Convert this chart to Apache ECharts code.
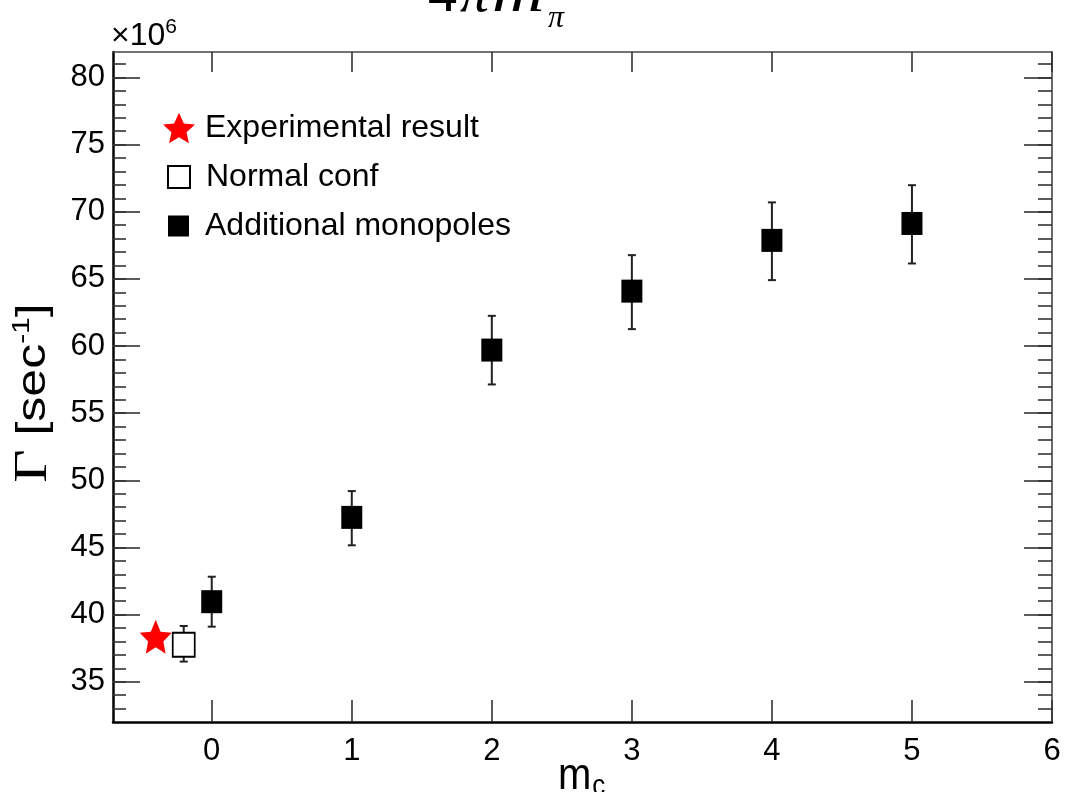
<!DOCTYPE html>
<html><head><meta charset="utf-8">
<script src="https://cdn.jsdelivr.net/npm/echarts@6/dist/echarts.min.js"></script>
<style>html,body{margin:0;padding:0;background:#fff}#c{width:1069px;height:792px}</style>
</head><body><div id="c"></div>
<script>
const experimentalX = [-0.4];
const experimentalY = [38.35];
const normalX = [-0.2];
const normalY = [37.75];
const normalLow = [36.5];
const normalHigh = [39.15];
const monopoleX = [0, 1, 2, 3, 4, 5];
const monopoleY = [40.96, 47.24, 59.70, 64.09, 67.87, 69.13];
const monopoleLow = [39.10, 45.16, 57.14, 61.26, 64.91, 66.15];
const monopoleHigh = [42.82, 49.20, 62.25, 66.77, 70.70, 71.98];
const xTicks = [0, 1, 2, 3, 4, 5, 6];
const yTicks = [35, 40, 45, 50, 55, 60, 65, 70, 75, 80];
const yMinorTicks = [33, 34, 35, 36, 37, 38, 39, 40, 41, 42, 43, 44, 45, 46, 47, 48, 49, 50, 51, 52, 53, 54, 55, 56, 57, 58, 59, 60, 61, 62, 63, 64, 65, 66, 67, 68, 69, 70, 71, 72, 73, 74, 75, 76, 77, 78, 79, 80, 81];
const seriesNames = ['Experimental result', 'Normal conf', 'Additional monopoles'];

const FONT = '"Liberation Sans", Arial, sans-serif';
const SERIF = '"Liberation Serif", "Times New Roman", serif';
const STAR = 'path://M0,-10 L2.9,-3.6 L9.5,-3.1 L4.5,1.6 L5.9,8.1 L0,4.6 L-5.9,8.1 L-4.5,1.6 L-9.5,-3.1 L-2.9,-3.6 Z';

const chart = echarts.init(document.getElementById('c'), null, {renderer: 'canvas'});

const pair = (xs, ys) => xs.map((x, i) => [x, ys[i]]);
const errData = normalX.map((x, i) => [x, normalLow[i], normalHigh[i]])
  .concat(monopoleX.map((x, i) => [x, monopoleLow[i], monopoleHigh[i]]));

const tickStyle = {color: '#333', width: 1.6};
const axisLineStrong = {show: true, onZero: false, lineStyle: {color: '#000', width: 2.5}};
const axisLineThin = {show: true, onZero: false, lineStyle: {color: '#444', width: 1.6}};

function yAxisDef(pos, ticks, len, labels, line) {
  return {
    type: 'value', position: pos, min: 32, max: 81.9, gridIndex: 0,
    splitLine: {show: false},
    axisLine: line ? (pos === 'left' ? axisLineStrong : axisLineThin) : {show: false, onZero: false},
    axisTick: {show: true, inside: true, length: len, lineStyle: tickStyle, customValues: ticks},
    axisLabel: labels ? {show: true, customValues: yTicks, fontFamily: FONT, fontSize: 31, color: '#000', margin: 8} : {show: false}
  };
}

const legendText = {fontFamily: FONT, fontSize: 32, color: '#000'};

chart.setOption({
  animation: false,
  backgroundColor: '#fff',
  grid: {left: 113, right: 17, top: 52, bottom: 70, containLabel: false},
  xAxis: [
    {type: 'value', position: 'bottom', min: -0.705, max: 6,
     splitLine: {show: false}, axisLine: axisLineStrong,
     axisTick: {show: true, inside: true, length: 22, lineStyle: tickStyle, customValues: xTicks},
     axisLabel: {show: true, customValues: xTicks, fontFamily: FONT, fontSize: 31, color: '#000', margin: 14}},
    {type: 'value', position: 'top', min: -0.705, max: 6,
     splitLine: {show: false}, axisLine: axisLineThin,
     axisTick: {show: true, inside: true, length: 20, lineStyle: tickStyle, customValues: xTicks},
     axisLabel: {show: false}}
  ],
  yAxis: [
    yAxisDef('left', yTicks, 27, true, true),
    yAxisDef('left', yMinorTicks, 13, false, false),
    yAxisDef('right', yTicks, 28, false, true),
    yAxisDef('right', yMinorTicks, 14, false, false)
  ],
  legend: [
    {data: [{name: seriesNames[0], icon: STAR}], orient: 'vertical', left: 163, top: 112, padding: 0,
     itemWidth: 32, itemHeight: 32, selectedMode: false,
     textStyle: Object.assign({padding: [0, 0, 0, 5]}, legendText)},
    {data: [{name: seriesNames[1]}], orient: 'vertical', left: 167, top: 161, padding: 0,
     itemWidth: 22, itemHeight: 22, selectedMode: false,
     textStyle: Object.assign({padding: [0, 0, 0, 11]}, legendText)},
    {data: [{name: seriesNames[2]}], orient: 'vertical', left: 168, top: 210, padding: 0,
     itemWidth: 21, itemHeight: 21, selectedMode: false,
     textStyle: Object.assign({padding: [0, 0, 0, 11]}, legendText)}
  ],
  series: [
    {type: 'custom', name: 'errors', xAxisIndex: 0, yAxisIndex: 0, z: 2,
     data: errData,
     renderItem: function (params, api) {
       const x = api.value(0);
       const lo = api.coord([x, api.value(1)]);
       const hi = api.coord([x, api.value(2)]);
       const cap = 4;
       const st = {stroke: '#222', lineWidth: 2};
       return {type: 'group', children: [
         {type: 'line', shape: {x1: lo[0], y1: lo[1], x2: hi[0], y2: hi[1]}, style: st},
         {type: 'line', shape: {x1: lo[0] - cap, y1: lo[1], x2: lo[0] + cap, y2: lo[1]}, style: st},
         {type: 'line', shape: {x1: hi[0] - cap, y1: hi[1], x2: hi[0] + cap, y2: hi[1]}, style: st}
       ]};
     }},
    {type: 'scatter', name: seriesNames[0], xAxisIndex: 0, yAxisIndex: 0, z: 5,
     data: pair(experimentalX, experimentalY), symbol: STAR, symbolSize: [32, 34],
     itemStyle: {color: '#ff0000', opacity: 1}},
    {type: 'scatter', name: seriesNames[1], xAxisIndex: 0, yAxisIndex: 0, z: 5,
     data: pair(normalX, normalY), symbol: 'rect', symbolSize: [22, 24],
     itemStyle: {color: '#fff', borderColor: '#000', borderWidth: 1.8, opacity: 1}},
    {type: 'scatter', name: seriesNames[2], xAxisIndex: 0, yAxisIndex: 0, z: 5,
     data: pair(monopoleX, monopoleY), symbol: 'rect', symbolSize: [21, 23],
     itemStyle: {color: '#000', opacity: 1}}
  ],
  graphic: [
    {type: 'text', left: 111, top: 17, z: 10,
     style: {text: '×10{s|6}', font: '32px ' + FONT, fill: '#000',
       rich: {s: {fontSize: 21, fontFamily: FONT, verticalAlign: 'top', padding: [0, 0, 18, 0]}}}},
    {type: 'text', x: 34, y: 393, rotation: Math.PI / 2, scaleX: 1.25, z: 10,
     style: {text: '{g|Γ} [sec{s|-1}]', fill: '#000', align: 'center', verticalAlign: 'middle',
       font: '40px ' + FONT,
       rich: {g: {fontFamily: SERIF, fontSize: 46},
              s: {fontSize: 24, fontFamily: FONT, padding: [0, 0, 24, 0]}}}},
    {type: 'text', x: 558, y: 753, scaleY: 1.1, z: 10,
     style: {text: 'm{s|c}', fill: '#000', font: '40px ' + FONT,
       rich: {s: {fontSize: 26, fontFamily: FONT, padding: [18, 0, 0, 1]}}}},
    {type: 'text', x: 428, y: -4, z: 10,
     style: {text: '4', fill: '#000', font: '58px ' + SERIF, verticalAlign: 'middle'}},
    {type: 'text', x: 460, y: -4, z: 10,
     style: {text: 'π', fill: '#000', font: 'italic 58px ' + SERIF, verticalAlign: 'middle'}},
    {type: 'text', x: 492, y: -4, scaleX: 1.25, z: 10,
     style: {text: 'm', fill: '#000', font: 'italic 58px ' + SERIF, verticalAlign: 'middle'}},
    {type: 'text', x: 548, y: 19, z: 10,
     style: {text: 'π', fill: '#000', font: 'italic 32px ' + SERIF, verticalAlign: 'middle'}}
  ]
});
</script>
</body></html>
